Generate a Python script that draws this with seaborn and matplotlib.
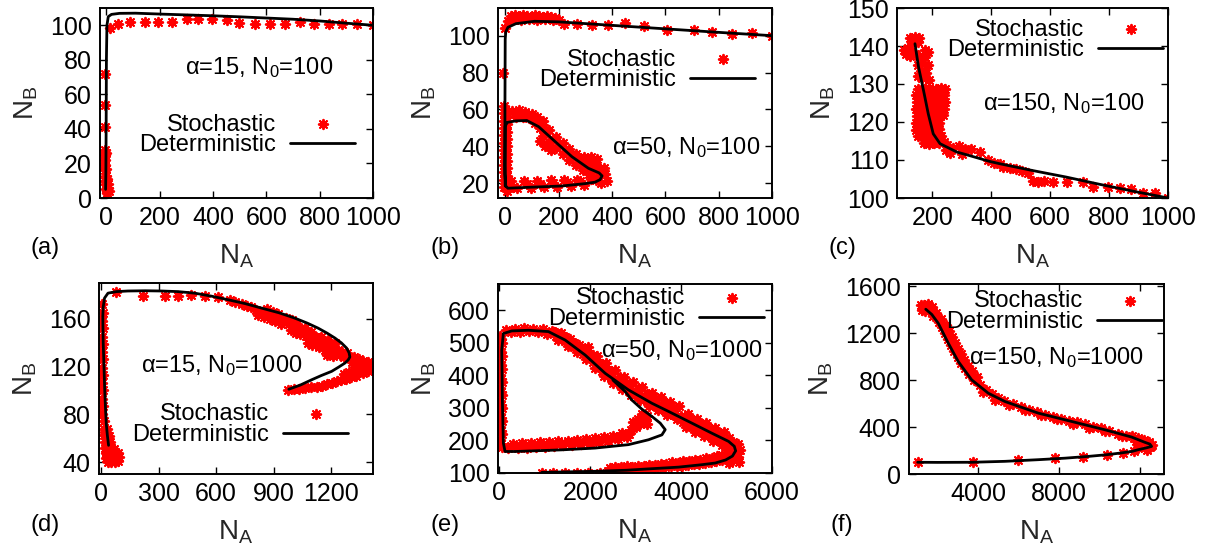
import matplotlib
matplotlib.use("Agg")
import matplotlib.pyplot as plt
import pandas as pd
import seaborn as sns

# ---------------- data ----------------
# (a) alpha=15, N0=100
det_a_x = [1000, 900, 800, 700, 600, 500, 400, 300, 200, 110, 50, 20, 8, 3, 1, 0, -1, -2]
det_a_y = [100.0, 101.2, 102.5, 103.5, 104.2, 104.9, 105.5, 106.0, 106.5, 107.0, 106.9, 106.3, 105.0, 100.0, 80.0, 40.0, 15.0, 5.0]
sto_a = [(15, 98.5), (46, 101.0), (90, 101.7), (146, 101.7), (196, 101.7), (246, 101.7), (303, 103.9),
         (346, 103.9), (397, 103.9), (453, 102.9), (497, 101.4), (559, 101.0), (615, 101.0), (672, 101.0),
         (728, 101.7), (779, 101.0), (835, 101.0), (885, 101.0), (941, 101.0), (1000, 100.0),
         (-6, 72), (-6, 54), (-6, 41), (-5, 28), (-4, 25), (-5, 22), (-3, 19), (-4, 16), (-2, 13), (-3, 10),
         (0, 8), (-1, 5), (2, 3), (4, 4), (7, 6), (10, 4), (3, 11), (0, 17), (6, 8), (-2, 26)]

# (b) alpha=50, N0=100
det_b_x = [1000, 800, 600, 400, 200, 110, 40, 10, 2, 0, -1, -1, 2, 10, 87, 212, 300, 337, 356, 363, 352,
           312, 250, 187, 125, 81, 40, 8, 0, -1, 0]
det_b_y = [100.0, 101.8, 103.7, 105.6, 107.5, 107.8, 106.5, 104.5, 102.0, 98.0, 60.0, 25.0, 18.5, 17.3, 17.8,
           18.5, 19.8, 20.6, 22.0, 24.0, 25.6, 28.1, 34.4, 42.6, 50.7, 54.0, 53.8, 53.0, 51.0, 30.0, 18.5]
sto_b = [(0, 104), (10, 108), (22, 110.5), (36, 111), (50, 110), (65, 111), (80, 110.5), (95, 110), (110, 111),
         (125, 110.5), (140, 110), (155, 110.5), (170, 110), (185, 109.5), (200, 108.5), (30, 108.8), (60, 108.6),
         (90, 108.8), (120, 108.5), (150, 108.8), (180, 108.6), (219, 106.5), (269, 106.5), (325, 106),
         (387, 106), (450, 106.9), (519, 105.4), (606, 103.3), (706, 103.3), (775, 101.8), (850, 101.1),
         (925, 101.5), (1000, 100), (-10, 79.5), (-6, 62),
         (-6, 18), (-6, 22), (-6, 26), (-6, 30), (-6, 34), (-6, 38), (-6, 42), (-6, 46), (-6, 50), (-6, 54),
         (-6, 58), (7, 16), (7, 20), (7, 24), (7, 28), (7, 32), (7, 36), (7, 40), (7, 44), (7, 48), (7, 52),
         (7, 56),
         (25, 59), (50, 59.5), (75, 58.5), (100, 57.5), (120, 56), (40, 56), (65, 56), (90, 55.5), (140, 54),
         (130, 50), (110, 52.5),
         (140, 51.8), (165, 48.6), (190, 45.2), (215, 42), (240, 38.7), (265, 35.9), (290, 33.3), (315, 30.9),
         (340, 29), (152, 47.2), (178, 44), (203, 40.6), (228, 37.4), (252, 34.3), (278, 31.6), (302, 29.1),
         (328, 27), (140, 45.8), (165, 42.6), (190, 39.2), (215, 36), (240, 32.7), (265, 29.9), (290, 27.3),
         (315, 24.9), (340, 23), (130, 43), (150, 40), (170, 38),
         (295, 34), (320, 34), (345, 33), (305, 31), (335, 30.5),
         (375, 25), (380, 21), (360, 20), (340, 21.5), (370, 28), (355, 26.5),
         (20, 21), (45, 17.5), (70, 21), (95, 17.5), (120, 21), (145, 18), (170, 21.5), (195, 18), (220, 22),
         (245, 18.5), (270, 22), (295, 19), (320, 22.5), (30, 18), (80, 19.5), (130, 19.5), (180, 20),
         (230, 20.5), (280, 21)]

# (c) alpha=150, N0=100
det_c_x = [141, 153, 170, 186, 203, 226, 283, 320, 396, 430, 542, 655, 768, 881, 1000]
det_c_y = [140.6, 134.5, 128.3, 122.2, 116.9, 114.3, 112.1, 111.3, 109.6, 109.0, 107.2, 105.5, 103.6, 101.8, 100.0]
sto_c = [(125, 142), (140, 142.3), (155, 142), (132, 140.8), (150, 141), (105, 139), (118, 139.5), (130, 138.8),
         (112, 137.8), (125, 137.5), (140, 138), (155, 137.5), (175, 137), (165, 135.5), (185, 135),
         (160, 133.5), (180, 133), (165, 131.5), (190, 131), (150, 135), (175, 139), (150, 132), (185, 138.5),
         (150, 128.8), (171, 128.6), (190, 129.0), (211, 128.7), (230, 128.9), (243, 128.6),
         (145, 127.1), (166, 126.9), (186, 127.2), (205, 126.9), (224, 127.0), (240, 127.2),
         (148, 125.3), (168, 125.0), (188, 125.2), (208, 125.4), (228, 125.1), (244, 125.3),
         (145, 123.5), (165, 123.3), (186, 123.4), (205, 123.6), (225, 123.3), (238, 123.5),
         (147, 121.6), (167, 121.8), (187, 121.5), (207, 121.7), (226, 121.6), (236, 121.9),
         (145, 119.8), (166, 119.9), (185, 119.7), (205, 120.0), (224, 119.8),
         (145, 118), (165, 118.2), (185, 117.8), (205, 118), (222, 118.1),
         (150, 116.2), (170, 116), (190, 116.3), (210, 116.1), (228, 116.2),
         (170, 114.5), (190, 114.3), (205, 114.6), (222, 114.4), (240, 114.8),
         (250, 114), (270, 113.2), (290, 113.6), (310, 113), (330, 112.8), (260, 111.8), (300, 111.5),
         (245, 112.5),
         (362, 112.1), (390, 110), (410, 109.3), (430, 109), (441, 108.2), (463, 107.8), (485, 107.5),
         (505, 107), (525, 106.6), (540, 104.6), (560, 104.2), (580, 104.5), (610, 104.2), (656, 104.3),
         (712, 104.1), (746, 103), (797, 102.8), (836, 102.6), (876, 102.3), (915, 101.2), (955, 101.3),
         (1000, 100)]

# (d) alpha=15, N0=1000
det_d_x = [980, 1040, 1099, 1150, 1204, 1240, 1273, 1290, 1299, 1295, 1282, 1255, 1221, 1180, 1133, 1075, 1011,
           930, 837, 750, 662, 575, 488, 400, 314, 230, 139, 80, 35, 17, 10, 8, 10, 14, 18, 22, 26, 32, 38]
det_d_y = [101, 104.5, 108.9, 112.5, 116, 119.5, 122.9, 125.5, 128, 131.5, 135.5, 139.8, 143.9, 148, 152.2,
           156.5, 160.6, 165, 169, 172.8, 176, 179, 181.5, 182.8, 183.3, 183.5, 183.3, 182.8, 181.5, 177.4, 170,
           162, 140, 120, 100, 85, 72, 62, 54]
sto_d = [(78, 182.1), (218, 179.3), (331, 179.3), (401, 179.3), (471, 180.2), (541, 179.3), (610, 178.2),
         (671, 175.4), (733, 172.6), (785, 169.8), (760, 171), (700, 174.5),
         (810, 167), (840, 166), (870, 164), (900, 162), (930, 160), (955, 158), (820, 163), (850, 161.5),
         (880, 160), (910, 158), (940, 156), (865, 168), (895, 166), (925, 164),
         (980, 156), (1005, 153.5), (1030, 151), (990, 151), (1015, 148.5), (1040, 147), (1055, 149.5),
         (965, 161), (995, 159), (1025, 156),
         (1070, 146), (1090, 143.5), (1110, 141.5), (1080, 140), (1100, 138), (1125, 139), (1140, 136.5),
         (1150, 141), (1065, 152), (1095, 149), (1120, 145),
         (1160, 138.5), (1185, 137), (1210, 135.5), (1235, 134), (1260, 132.5), (1285, 131), (1170, 134),
         (1195, 132.5), (1220, 131), (1245, 129.5), (1270, 128), (1295, 127), (1180, 130), (1210, 128.5),
         (1150, 145), (1185, 142), (1220, 139.5),
         (1320, 128), (1345, 126.5), (1370, 125), (1395, 123.5), (1405, 120), (1380, 119), (1355, 121),
         (1330, 122.5), (1310, 124), (1395, 116.5), (1370, 114.5), (1345, 116),
         (1330, 112.5), (1305, 111), (1280, 110), (1255, 108.5), (1230, 107.5), (1205, 106.5), (1320, 117),
         (1295, 115.5), (1270, 114),
         (975, 100), (1005, 101), (1035, 101.5), (1065, 102), (1095, 102.5), (1125, 103), (1155, 104),
         (1180, 105),
         (2, 172), (8, 165), (2, 158), (8, 152), (2, 145), (8, 139), (2, 132), (8, 126), (2, 119), (8, 113),
         (2, 106), (8, 100), (4, 93), (10, 87), (6, 80), (12, 74),
         (15, 68), (30, 68), (15, 62.5), (30, 62.5), (40, 62), (18, 57), (32, 57), (46, 56.5), (20, 52),
         (35, 52), (50, 51.5), (65, 51), (22, 47.5), (38, 47.5), (55, 47), (72, 47.5), (88, 48), (25, 43.5),
         (42, 43.5), (60, 43), (78, 43.5), (95, 44), (35, 40), (52, 40), (70, 40), (88, 40.5)]

# (e) alpha=50, N0=1000
det_e_x = [934, 1500, 2108, 2800, 3209, 3943, 4458, 4751, 4980, 5130, 5200, 5170, 5044, 4678, 4237, 3722, 3357,
           2841, 2328, 1888, 1447, 1079, 639, 273, 88, 52, 60, 66, 88, 125, 346, 1374, 2108, 2841, 3282, 3577,
           3650, 3540, 3357, 3136, 2915, 2769, 2500]
det_e_y = [102, 103.5, 105.2, 108.5, 112, 118, 125.5, 130.6, 140, 152, 168, 182, 197, 222, 253, 289, 314, 355,
           406, 462, 508, 534, 538, 536, 528, 477, 400, 324, 192, 166, 166, 171, 176.5, 187, 202, 217, 233, 253,
           273.5, 296, 324, 350, 385]
sto_e = [(934, 100), (1190, 100), (1447, 100.5), (1704, 100.5), (1961, 101), (2218, 101.5),
         (2400, 107), (2650, 108), (2900, 110), (3150, 113), (3400, 115), (3650, 118), (3900, 121), (4150, 124),
         (4400, 128), (4650, 133), (4900, 140), (5100, 150), (5230, 165),
         (2550, 118), (2800, 120), (3050, 123), (3300, 126), (3550, 129), (3800, 133), (4050, 137), (4300, 141),
         (4550, 146), (4800, 152), (5000, 160), (5200, 175), (5250, 190), (5150, 195),
         (2525, 108), (2775, 109.5), (3025, 112), (3275, 114.5), (3525, 117), (3775, 120), (4025, 123),
         (4275, 127), (4525, 131), (4775, 137), (4975, 146), (5150, 158),
         (2425, 115), (2675, 117), (2925, 119.5), (3175, 122), (3425, 125), (3675, 128.5), (3925, 132),
         (4175, 136), (4425, 141), (4675, 147), (4900, 155),
         (5250, 150), (5280, 135), (5300, 170), (5150, 140), (5050, 130),
         (4900, 185), (4700, 198.5), (4500, 213), (4300, 226.5), (4100, 240.5), (3900, 264.5), (3700, 278.5),
         (3500, 292), (3300, 306.5), (3100, 322.5), (2900, 338), (2700, 357), (2500, 377), (2300, 397.5),
         (2100, 423), (1900, 448.5), (1700, 470), (1500, 490), (1300, 507),
         (5000, 200), (4800, 213.5), (4600, 227.5), (4400, 241.5), (4200, 255.5), (4000, 274.5), (3800, 293.5),
         (3600, 307), (3400, 321), (3200, 336.5), (3000, 352), (2800, 369), (2600, 389), (2400, 409),
         (2200, 432), (2000, 458), (1800, 481), (1600, 502), (1400, 521), (1200, 533),
         (4950, 225.5), (4750, 239), (4550, 253), (4350, 267), (4150, 281), (3950, 305), (3750, 319),
         (3550, 332.5), (3350, 347), (3150, 362.5), (2950, 378), (2750, 396), (2550, 416), (2350, 436.5),
         (2150, 460.5), (1950, 486), (1750, 491.5), (1550, 512), (1350, 529.5),
         (5050, 185.5), (4850, 199), (4650, 213), (4450, 227), (4250, 241), (4050, 255), (3850, 300),
         (3650, 314), (3450, 327.5), (3250, 342.5), (3050, 358), (2850, 374), (2650, 394), (2450, 414),
         (2250, 435), (2050, 461), (1850, 480), (1650, 500), (1450, 518), (1250, 530),
         (5050, 207.5), (4850, 221), (4650, 235), (4450, 249), (4250, 263), (3850, 279), (3650, 293),
         (3450, 306.5), (3250, 321.5), (3050, 337), (2850, 353), (2650, 373), (2450, 393), (2250, 414),
         (2050, 440), (1850, 465), (1650, 486), (1450, 506), (1250, 521),
         (150, 540), (350, 543), (550, 545), (750, 543), (950, 541), (1150, 535), (250, 532), (450, 534),
         (650, 535), (850, 533), (1050, 528),
         (20, 520), (60, 500), (20, 480), (60, 460), (20, 440), (60, 420), (20, 400), (60, 380), (20, 360),
         (60, 340), (20, 320), (60, 300), (20, 280), (60, 260), (20, 240), (60, 220), (20, 200), (60, 180),
         (40, 510), (40, 470), (40, 430), (40, 390), (40, 350), (40, 310), (40, 270), (40, 230), (40, 190),
         (200, 176), (400, 177), (600, 178), (800, 180), (1000, 181), (1200, 183), (1400, 185), (1600, 187),
         (1800, 189), (2000, 192), (2200, 195), (2400, 199), (2600, 204), (2800, 210),
         (300, 190), (500, 191), (700, 192), (900, 194), (1100, 195), (1300, 197), (1500, 199), (1700, 201),
         (1900, 204), (2100, 207), (2300, 211), (2500, 215), (2700, 222), (2900, 232),
         (250, 183), (450, 184), (650, 185), (850, 187), (1050, 188), (1250, 190), (1450, 192), (1650, 194),
         (1850, 196.5), (2050, 199.5), (2250, 203), (2450, 207), (2650, 213), (2850, 221),
         (3000, 240), (3100, 250), (3200, 262), (3250, 275), (3150, 280), (3050, 265), (3250, 250), (2950, 255)]

# (f) alpha=150, N0=1000
det_f_x = [1000, 2000, 3673, 5322, 6972, 8300, 9447, 10400, 11099, 11600, 11921, 12300, 12585, 12500, 12253,
           11595, 10273, 8624, 6972, 5322, 4496, 3673, 3011, 2517, 2020, 1700, 1400]
det_f_y = [100, 99, 100, 108, 122, 135, 150, 165, 180, 192, 207, 222, 235, 255, 270, 315, 377, 448, 519, 618,
           689, 803, 959, 1115, 1285, 1360, 1405]
sto_f = [(1000, 100), (3754, 105), (5981, 122), (7780, 133), (9199, 148), (10400, 162), (11180, 176),
         (11700, 195), (11921, 221), (12337, 207), (12500, 230), (12600, 250), (12450, 275), (12200, 290),
         (11900, 305), (11600, 320),
         (1400, 1430), (1550, 1400), (1750, 1350), (2050, 1300), (2220, 1250), (2370, 1200), (2520, 1150),
         (2660, 1100), (2820, 1050), (2980, 1000), (3150, 950), (3350, 900), (3550, 850), (3790, 800),
         (1700, 1420), (1900, 1370), (2150, 1320), (2400, 1270), (2550, 1220), (2700, 1170), (2850, 1120),
         (3000, 1070), (3150, 1020), (3300, 975), (3500, 925), (3700, 875), (3950, 825),
         (1150, 1440), (1300, 1445), (1500, 1450), (1200, 1400), (1350, 1390),
         (4100, 760), (4400, 720), (4700, 680), (5000, 650), (5300, 625), (5700, 595), (6100, 570), (6500, 545),
         (6900, 525), (7300, 505), (7700, 490), (8100, 470), (8500, 455), (8900, 440), (9300, 425), (9700, 405),
         (10100, 390), (10500, 370), (10900, 345), (11300, 325), (11700, 305), (12100, 285), (12450, 260),
         (12550, 240),
         (4250, 700), (4850, 630), (5500, 590), (6300, 545), (7100, 500), (7900, 465), (8700, 430), (9500, 395),
         (10300, 365), (11100, 325), (11800, 285)]

annot = ["α=15, $\\mathregular{N_0}$=100", "α=50, $\\mathregular{N_0}$=100", "α=150, $\\mathregular{N_0}$=100",
         "α=15, $\\mathregular{N_0}$=1000", "α=50, $\\mathregular{N_0}$=1000", "α=150, $\\mathregular{N_0}$=1000"]
panel_tags = ["(a)", "(b)", "(c)", "(d)", "(e)", "(f)"]
xticks_all = [[0, 200, 400, 600, 800, 1000], [0, 200, 400, 600, 800, 1000], [200, 400, 600, 800, 1000],
              [0, 300, 600, 900, 1200], [0, 2000, 4000, 6000], [4000, 8000, 12000]]
yticks_all = [[0, 20, 40, 60, 80, 100], [20, 40, 60, 80, 100], [100, 110, 120, 130, 140, 150],
              [40, 80, 120, 160], [100, 200, 300, 400, 500, 600], [0, 400, 800, 1200, 1600]]

# ---------------- layout ----------------
W, H = 1206, 554
sns.set_style("ticks")
plt.rcParams.update({
    "font.family": ["Liberation Sans", "DejaVu Sans"],
    "mathtext.fontset": "custom",
    "mathtext.rm": "Liberation Sans",
    "mathtext.it": "Liberation Sans:italic",
    "xtick.direction": "in",
    "ytick.direction": "in",
    "axes.edgecolor": "black",
    "axes.linewidth": 1.4,
    "xtick.color": "black",
    "ytick.color": "black",
    "text.color": "black",
})

# pixel boxes: left, top, right, bottom
boxes = [(100, 8, 373, 198), (498, 8, 772, 198), (897, 8, 1168, 198),
         (99, 283, 373, 474), (498, 284, 772, 473), (909, 284, 1164, 474)]
xlims = [(-23, 1000), (-27, 1000), (80, 1000), (-12, 1420), (-30, 6000), (570, 13200)]
ylims = [(0, 110), (12, 115), (100, 150), (30, 190), (100, 680), (0, 1620)]
legend_pos = [(355, 135), (755, 70), (1163, 40), (348, 424.5), (764, 308.7), (1162, 311.7)]
annot_pos = [(259, 74), (686, 154), (1064, 110), (222, 372), (682, 357), (1056, 364)]
tag_pos = [(45, 248), (445, 248), (842, 248), (45, 525), (445, 525), (842, 525)]

fig = plt.figure(figsize=(W / 100, H / 100), dpi=100)
fig.patch.set_facecolor("white")

dets = [(det_a_x, det_a_y), (det_b_x, det_b_y), (det_c_x, det_c_y),
        (det_d_x, det_d_y), (det_e_x, det_e_y), (det_f_x, det_f_y)]
stos = [sto_a, sto_b, sto_c, sto_d, sto_e, sto_f]

for i in range(6):
    l, t, r, b = boxes[i]
    ax = fig.add_axes([l / W, 1 - b / H, (r - l) / W, (b - t) / H])
    df_s = pd.DataFrame(stos[i], columns=["NA", "NB"])
    df_d = pd.DataFrame({"NA": dets[i][0], "NB": dets[i][1]})
    sns.scatterplot(data=df_s, x="NA", y="NB", ax=ax, marker=(8, 2, 0), s=46, color="#ff0000",
                    linewidth=1.4, label="Stochastic", zorder=2)
    sns.lineplot(data=df_d, x="NA", y="NB", ax=ax, sort=False, estimator=None, color="black",
                 linewidth=2.0, label="Deterministic", zorder=3)
    ax.set_xlim(*xlims[i])
    ax.set_ylim(*ylims[i])
    ax.set_xticks(xticks_all[i])
    ax.set_yticks(yticks_all[i])
    ax.tick_params(direction="in", top=True, right=True, length=5, width=1.0, labelsize=18, pad=6)
    for s in ax.spines.values():
        s.set_linewidth(1.4)
        s.set_visible(True)
    ax.set_xlabel("$\\mathregular{N_A}$", fontsize=20, labelpad=9)
    ax.set_ylabel("$\\mathregular{N_B}$", fontsize=20, labelpad=7)

    h, lab = ax.get_legend_handles_labels()
    order = [lab.index("Stochastic"), lab.index("Deterministic")]
    lx, ly = legend_pos[i]
    ax.legend([h[k] for k in order], [lab[k] for k in order], loc="center right",
              bbox_to_anchor=(lx / W, 1 - ly / H), bbox_transform=fig.transFigure,
              frameon=False, markerfirst=False, handlelength=2.75, handletextpad=0.6,
              labelspacing=-0.05, borderpad=0, borderaxespad=0, fontsize=17, scatterpoints=1)

    ax_, ay_ = annot_pos[i]
    fig.text(ax_ / W, 1 - ay_ / H, annot[i], ha="center", va="baseline", fontsize=17)
    tx, ty = tag_pos[i]
    fig.text(tx / W, 1 - ty / H, panel_tags[i], ha="center", va="center", fontsize=17)

fig.savefig("out.png", dpi=100, facecolor="white")
